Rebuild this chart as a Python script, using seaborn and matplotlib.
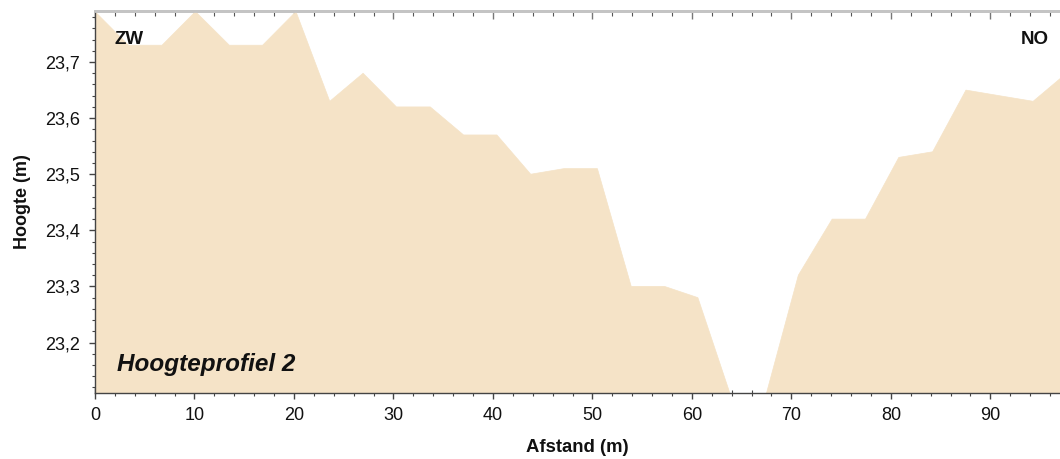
import numpy as np
import pandas as pd
import matplotlib
matplotlib.use("Agg")
import matplotlib.pyplot as plt
import seaborn as sns
from matplotlib.ticker import MultipleLocator, FuncFormatter

# ---- data ----
afstand = [0.0, 3.37, 6.74, 10.1, 13.5, 16.85, 20.2, 23.6, 26.95, 30.3,
           33.7, 37.05, 40.4, 43.8, 47.15, 50.5, 53.9, 57.25, 60.6, 64.0,
           67.35, 70.7, 74.1, 77.45, 80.8, 84.2, 87.55, 90.9, 94.3, 97.65]
hoogte = [23.79, 23.73, 23.73, 23.79, 23.73, 23.73, 23.79, 23.63, 23.68, 23.62,
          23.62, 23.57, 23.57, 23.50, 23.51, 23.51, 23.30, 23.30, 23.28, 23.10,
          23.10, 23.32, 23.42, 23.42, 23.53, 23.54, 23.65, 23.64, 23.63, 23.68]
x_ticks = [0, 10, 20, 30, 40, 50, 60, 70, 80, 90]
y_ticks = [23.2, 23.3, 23.4, 23.5, 23.6, 23.7]
title_text = "Hoogteprofiel 2"
left_label = "ZW"
right_label = "NO"
x_label = "Afstand (m)"
y_label = "Hoogte (m)"

df = pd.DataFrame({"afstand": afstand, "hoogte": hoogte})

sns.set_theme(style="ticks")
plt.rcParams["font.family"] = ["Liberation Sans", "DejaVu Sans"]

fill_color = "#F5E3C7"
axis_color = "#444444"

fig = plt.figure(figsize=(10.6, 4.59), dpi=100)
ax = fig.add_axes([95 / 1060, 1 - 393 / 459, (1060 - 95) / 1060, (393 - 11) / 459])

sns.lineplot(data=df, x="afstand", y="hoogte", ax=ax, color=fill_color,
             linewidth=0.5, estimator=None, sort=False)
ax.fill_between(df["afstand"], df["hoogte"], 22.5, color=fill_color, linewidth=0)

ax.set_xlim(0, 97)
ax.set_ylim(23.11, 23.791)

ax.set_xticks(x_ticks)
ax.set_yticks(y_ticks)
ax.xaxis.set_minor_locator(MultipleLocator(2))
ax.yaxis.set_minor_locator(MultipleLocator(0.02))
ax.yaxis.set_major_formatter(FuncFormatter(lambda v, p: f"{v:.1f}".replace(".", ",")))
ax.xaxis.set_major_formatter(FuncFormatter(lambda v, p: f"{v:.0f}"))

ax.tick_params(axis="both", which="major", direction="inout", length=8, width=1,
               color=axis_color, labelsize=13, labelcolor="#111111")
ax.tick_params(axis="both", which="minor", direction="inout", length=5, width=0.8,
               color=axis_color)
ax.tick_params(axis="y", which="major", pad=7)
ax.tick_params(axis="x", which="major", pad=6)

for s in ["left", "bottom"]:
    ax.spines[s].set_color(axis_color)
    ax.spines[s].set_linewidth(1.0)
ax.spines["right"].set_visible(False)
ax.spines["top"].set_color("#C4C4C4")
ax.spines["top"].set_linewidth(2.0)

# top axis ticks pointing inward, no labels
sec = ax.secondary_xaxis("top")
sec.set_xticks(x_ticks)
sec.xaxis.set_minor_locator(MultipleLocator(2))
sec.tick_params(axis="x", which="major", direction="in", length=6, width=1,
                color="#777777", labeltop=False)
sec.tick_params(axis="x", which="minor", direction="in", length=3.5, width=0.8,
                color="#555555")
sec.spines["top"].set_color("#C4C4C4")
sec.spines["top"].set_linewidth(2.0)

ax.set_xlabel(x_label, fontsize=13.3, fontweight="bold", color="#111111", labelpad=11)
ax.set_ylabel(y_label, fontsize=13, fontweight="bold", color="#111111", labelpad=10)

ax.text(0.020, 0.925, left_label, transform=ax.transAxes, fontsize=13.5,
        fontweight="bold", color="#111111", ha="left", va="center")
ax.text(0.988, 0.925, right_label, transform=ax.transAxes, fontsize=13.5,
        fontweight="bold", color="#111111", ha="right", va="center")
ax.text(0.023, 0.075, title_text, transform=ax.transAxes, fontsize=17.5,
        fontweight="bold", fontstyle="italic", color="#111111", ha="left", va="center")

fig.savefig("out.png", dpi=100)
